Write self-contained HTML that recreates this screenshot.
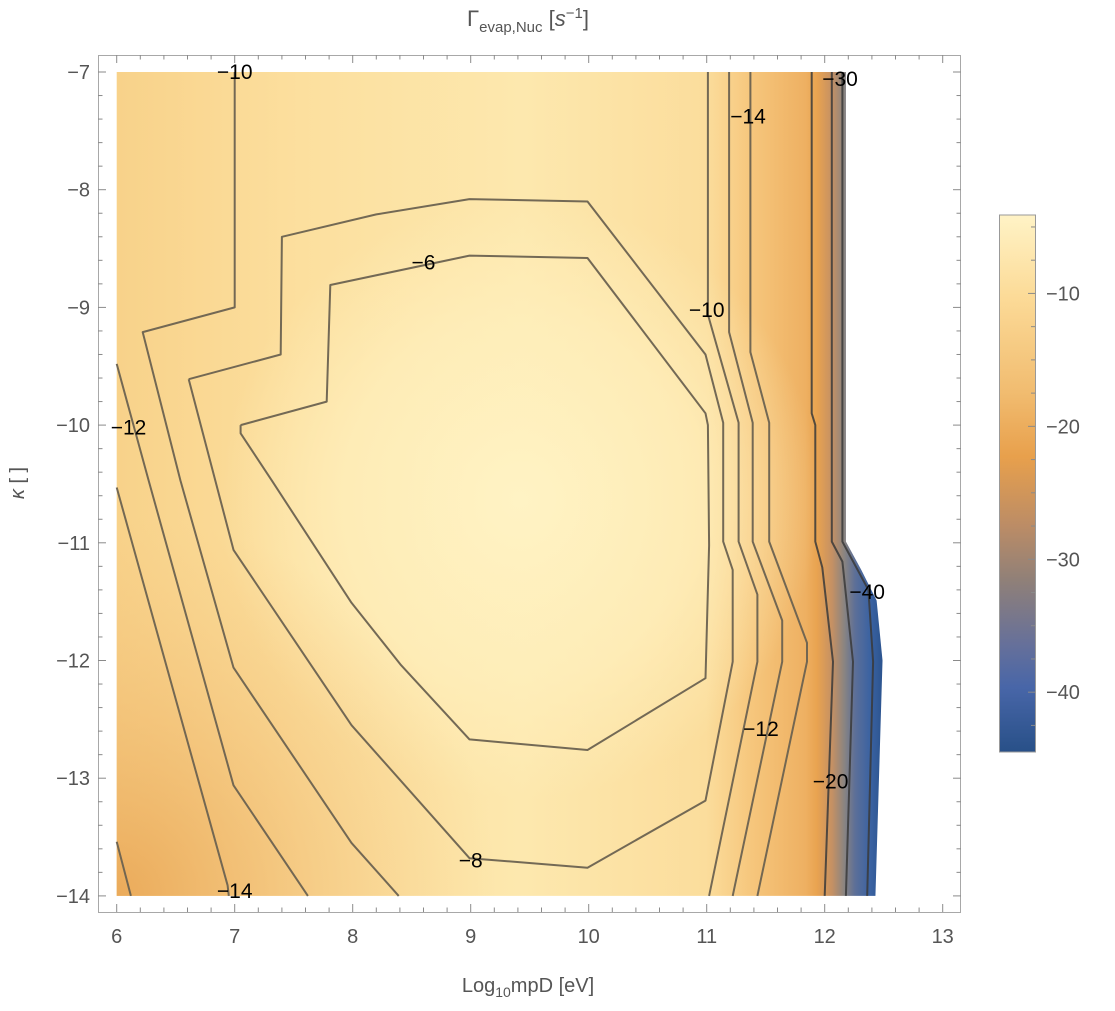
<!DOCTYPE html>
<html><head><meta charset="utf-8"><style>
html,body{margin:0;padding:0;background:#fff;}
svg text{font-family:"Liberation Sans",sans-serif;}
</style></head><body>
<svg id="chart" width="1115" height="1006" viewBox="0 0 1115 1006" xmlns="http://www.w3.org/2000/svg">
<defs>
<linearGradient id="bgH" x1="117" y1="0" x2="882" y2="0" gradientUnits="userSpaceOnUse">
<stop offset="0" stop-color="#F8D28A"/><stop offset="0.24" stop-color="#FCDF9E"/>
<stop offset="0.53" stop-color="#FDE8AE"/><stop offset="0.77" stop-color="#FBDD9C"/>
<stop offset="0.83" stop-color="#F6C67C"/><stop offset="0.9" stop-color="#EEB062"/>
<stop offset="0.915" stop-color="#E9A350"/><stop offset="0.935" stop-color="#C49064"/>
<stop offset="0.95" stop-color="#8C8580"/><stop offset="0.965" stop-color="#5C6F98"/>
<stop offset="0.985" stop-color="#3A62A2"/><stop offset="1" stop-color="#2C548F"/>
</linearGradient>
<radialGradient id="bgC" cx="520" cy="500" r="300" gradientUnits="userSpaceOnUse">
<stop offset="0" stop-color="#FFF3C4" stop-opacity="1"/><stop offset="0.6" stop-color="#FFF0BE" stop-opacity="0.7"/><stop offset="1" stop-color="#FFF0BE" stop-opacity="0"/>
</radialGradient>
<radialGradient id="bgBL" cx="116" cy="896" r="380" gradientUnits="userSpaceOnUse">
<stop offset="0" stop-color="#E9A655" stop-opacity="0.9"/><stop offset="1" stop-color="#F3C27A" stop-opacity="0"/>
</radialGradient>
<linearGradient id="cbar" x1="0" y1="0" x2="0" y2="1">
<stop offset="0" stop-color="#FFF3C6"/><stop offset="0.15" stop-color="#FCDB98"/>
<stop offset="0.33" stop-color="#F1BC70"/><stop offset="0.45" stop-color="#E8A04C"/>
<stop offset="0.58" stop-color="#BB8C66"/><stop offset="0.68" stop-color="#908078"/>
<stop offset="0.8" stop-color="#66709A"/><stop offset="0.88" stop-color="#4866A8"/>
<stop offset="1" stop-color="#285088"/>
</linearGradient>
<clipPath id="regionClip"><path id="clipPathEl"/></clipPath>
</defs>
<g id="plot"></g>
</svg>
<script>
// axis ranges
const xTicks = [6,7,8,9,10,11,12,13];
const yTicks = [-7,-8,-9,-10,-11,-12,-13,-14];
const cbTicks = [-10,-20,-30,-40];
const cbRange = [-4.1,-44.5];
// contour levels and polylines (data units: log10 mpD, kappa)
const levels = [-6,-8,-10,-10,-12,-12,-14,-14,-16,-20,-30,-40];
const c6 = [[7.05,-10.0],[7.78,-9.8],[7.81,-8.81],[8.99,-8.56],[9.99,-8.58],[10.99,-9.9],[11.01,-10.0],[11.02,-11.02],[10.99,-12.15],[9.99,-12.76],[8.99,-12.67],[8.41,-12.04],[7.99,-11.51],[7.32,-10.48],[7.05,-10.07],[7.05,-10.0]];
const c8 = [[6.61,-9.61],[7.39,-9.4],[7.4,-8.4],[8.2,-8.21],[8.99,-8.08],[9.99,-8.1],[10.99,-9.4],[11.14,-9.98],[11.14,-10.99],[11.22,-11.23],[11.22,-12.01],[10.99,-13.19],[9.99,-13.76],[8.99,-13.68],[7.99,-12.55],[6.99,-11.06],[6.61,-9.61]];
const c10a = [[7.0,-7],[7.0,-9.0],[6.22,-9.21],[6.54,-10.47],[6.99,-12.06],[7.99,-13.55],[8.39,-14]];
const c10b = [[11.01,-7],[11.01,-9.06],[11.27,-9.98],[11.27,-10.99],[11.43,-11.44],[11.43,-12.01],[11.02,-14]];
const c12a = [[6.0,-9.48],[6.27,-10.47],[6.99,-13.06],[7.62,-14]];
const c12b = [[11.19,-7],[11.19,-9.21],[11.39,-9.98],[11.39,-10.99],[11.64,-11.66],[11.64,-12.01],[11.22,-14]];
const c14a = [[6.0,-10.53],[6.94,-13.91],[6.95,-14]];
const c14b = [[11.37,-7],[11.37,-9.38],[11.53,-9.98],[11.53,-10.99],[11.85,-11.85],[11.85,-12.01],[11.43,-14]];
const c16 = [[6.0,-13.54],[6.12,-14]];
const c20 = [[11.89,-7],[11.89,-9.9],[11.92,-10.0],[11.92,-10.99],[11.98,-11.21],[12.07,-12.01],[12.0,-14]];
const c30 = [[12.06,-7],[12.06,-10.99],[12.15,-11.16],[12.24,-12.01],[12.18,-14]];
const c40 = [[12.15,-7],[12.15,-10.99],[12.37,-11.4],[12.41,-12.01],[12.36,-14]];
const regionEdge = [[12.18,-7],[12.18,-10.99],[12.31,-11.23],[12.44,-11.49],[12.49,-12.0],[12.43,-14]];
const contourLabels = ["−10","−6","−12","−14","−8","−10","−14","−30","−40","−12","−20"];
const labelPos = [[7.0,-7.0],[8.6,-8.62],[6.1,-10.02],[7.0,-13.96],[9.0,-13.7],[11.0,-9.02],[11.35,-7.38],[12.13,-7.06],[12.36,-11.42],[11.46,-12.58],[12.05,-13.03]];

const NS="http://www.w3.org/2000/svg";
const X = v => 116.7 + (v-6)*118;
const Y = v => 72 + (-7 - v)*117.7;
const plot = document.getElementById('plot');
function mk(tag, attrs, parent){const e=document.createElementNS(NS,tag);for(const k in attrs)e.setAttribute(k,attrs[k]);(parent||plot).appendChild(e);return e;}
const pts = arr => arr.map(p=>X(p[0]).toFixed(1)+','+Y(p[1]).toFixed(1)).join(' ');

// region clip
let d = 'M'+X(6)+','+Y(-7)+' L'+regionEdge.map(p=>X(p[0])+','+Y(p[1])).join(' L')+' L'+X(6)+','+Y(-14)+' Z';
document.getElementById('clipPathEl').setAttribute('d', d);

// frame
const frame = mk('rect',{x:98.5,y:55.5,width:862,height:857,fill:'none',stroke:'#a8a8a8','stroke-width':1});



// density background
const bg = mk('g',{'clip-path':'url(#regionClip)'});


mk('rect',{x:110,y:60,width:800,height:850,fill:'url(#bgH)'},bg);
mk('rect',{x:110,y:60,width:800,height:850,fill:'url(#bgC)'},bg);
mk('rect',{x:110,y:60,width:800,height:850,fill:'url(#bgBL)'},bg);

// contours
const lines = [c6,c8,c10a,c10b,c12a,c12b,c14a,c14b,c16,c20,c30,c40];
lines.forEach((arr,i)=>{
  const pl = mk('polyline',{points:pts(arr),fill:'none',stroke:i>=9?'#3a3a3a':'#6b6250','stroke-opacity':i>=9?0.85:0.95,'stroke-width':2,'stroke-linejoin':'round'});
  
  
});
// contour labels
contourLabels.forEach((t,i)=>{
  const tx = mk('text',{x:X(labelPos[i][0]),y:Y(labelPos[i][1])+7,'font-size':21,fill:'#000','text-anchor':'middle'});
  tx.textContent=t;
  
  
});

// ticks
const tickG = mk('g',{stroke:'#8a8a8a','stroke-width':1});


for(let k=0;k<=35;k++){
  const v=6+k*0.2, x=X(v), major=(k%5===0), L=major?8:4.5;
  mk('line',{x1:x,y1:912,x2:x,y2:912-L},tickG);
  mk('line',{x1:x,y1:55,x2:x,y2:55+L},tickG);
}
for(let k=0;k<=35;k++){
  const v=-7-k*0.2, y=Y(v), major=(k%5===0), L=major?8:4.5;
  mk('line',{x1:98,y1:y,x2:98+L,y2:y},tickG);
  mk('line',{x1:961,y1:y,x2:961-L,y2:y},tickG);
}
xTicks.forEach(v=>{
  const t=mk('text',{x:X(v),y:943,'font-size':20,fill:'#555','text-anchor':'middle'});
  t.textContent=String(v);
  
  
});
yTicks.forEach(v=>{
  const t=mk('text',{x:90,y:Y(v)+7,'font-size':20,fill:'#555','text-anchor':'end'});
  t.textContent='−'+String(-v);
  
  
});

// axis titles
const xt=mk('text',{x:528,y:992,'font-size':20,fill:'#555','text-anchor':'middle'});
xt.innerHTML='Log<tspan font-size="14" dy="5">10</tspan><tspan dy="-5">mpD [eV]</tspan>';


const yt=mk('text',{x:0,y:0,'font-size':20,fill:'#555','text-anchor':'middle',transform:'translate(24,483) rotate(-90)'});
yt.innerHTML='<tspan font-style="italic">κ</tspan> [ ]';


const tt=mk('text',{x:528,y:26,'font-size':22,fill:'#555','text-anchor':'middle'});
tt.innerHTML='Γ<tspan font-size="15" dy="6">evap,Nuc</tspan><tspan dy="-6"> [</tspan><tspan font-style="italic">s</tspan><tspan font-size="15" dy="-8">−1</tspan><tspan dy="8">]</tspan>';



// colorbar
const cbTop=215, cbBot=752;
const CB = v => cbTop + (v-cbRange[0])/(cbRange[1]-cbRange[0])*(cbBot-cbTop);
const cb=mk('rect',{x:999.5,y:cbTop,width:36,height:cbBot-cbTop,fill:'url(#cbar)',stroke:'#999','stroke-width':1});


for(let v=-5;v>=-44;v-=2.5){
  const major = Math.abs(v/10-Math.round(v/10))<1e-6;
  mk('line',{x1:1035,y1:CB(v),x2:1035-(major?7:4),y2:CB(v),stroke:'#8a8a8a','stroke-width':1});
}
cbTicks.forEach(v=>{
  const t=mk('text',{x:1046,y:CB(v)+7,'font-size':20,fill:'#555'});
  t.textContent='−'+String(-v);
  
  
});
</script>
</body></html>
